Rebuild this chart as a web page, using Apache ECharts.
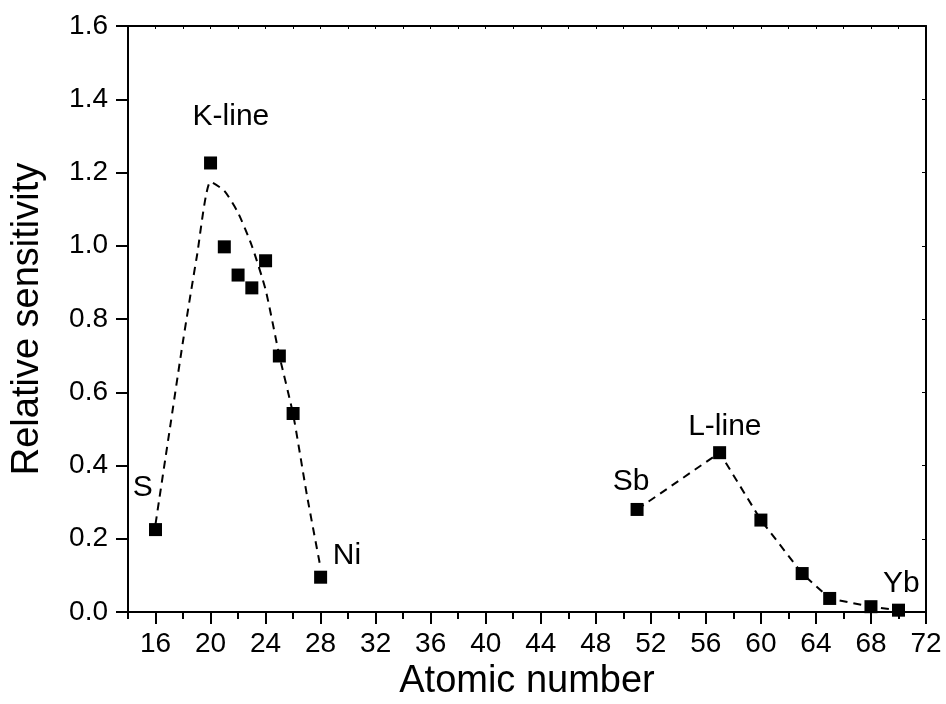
<!DOCTYPE html>
<html>
<head>
<meta charset="utf-8">
<script src="https://cdn.jsdelivr.net/npm/echarts@6/dist/echarts.min.js"></script>
<style>
  html, body { margin: 0; padding: 0; background: #fff; }
  #main { width: 946px; height: 704px; }
</style>
</head>
<body>
<div id="main"></div>
<script>
// measured K-line points (atomic number, relative sensitivity)
const kZ = [16, 20, 21, 22, 23, 24, 25, 26, 28];
const kVal = [0.225, 1.226, 0.997, 0.92, 0.885, 0.959, 0.699, 0.542, 0.095];

// dashed guide curve through the K-line region
const kFitZ = [16, 17, 18, 19, 20, 21, 22, 23, 24, 25, 26, 27, 28];
const kFitVal = [0.24, 0.49, 0.74, 0.97, 1.175, 1.15, 1.09, 1.0, 0.88, 0.70, 0.54, 0.32, 0.12];

// measured L-line points
const lZ = [51, 57, 60, 63, 65, 68, 70];
const lVal = [0.28, 0.435, 0.251, 0.105, 0.037, 0.0145, 0.005];

// annotations
const noteText = ['K-line', 'S', 'Ni', 'Sb', 'L-line', 'Yb'];
const noteZ = [21.48, 15.08, 29.91, 50.57, 57.38, 70.2];
const noteVal = [1.352, 0.339, 0.153, 0.355, 0.505, 0.076];

// tick labels
const xMajor = [16, 20, 24, 28, 32, 36, 40, 44, 48, 52, 56, 60, 64, 68, 72];
const xMinor = [14, 18, 22, 26, 30, 34, 38, 42, 46, 50, 54, 58, 62, 66, 70];

const font = 'Liberation Sans, Arial, sans-serif';
const black = '#000';

let chart = echarts.init(document.getElementById('main'));

let option = {
  animation: false,
  backgroundColor: '#fff',
  textStyle: { fontFamily: font },
  grid: { left: 128, right: 20, top: 26, bottom: 92, outerBoundsMode: 'none', containLabel: false },
  xAxis: [
    {
      type: 'value', min: 14, max: 72, position: 'bottom',
      name: 'Atomic number', nameLocation: 'middle', nameGap: 51,
      nameTextStyle: { fontSize: 38, color: black, fontFamily: font },
      axisLine: { show: true, lineStyle: { color: black, width: 2 } },
      axisTick: { show: true, customValues: xMajor, length: 12, lineStyle: { color: black, width: 2 } },
      axisLabel: { customValues: xMajor, fontSize: 28, color: black, margin: 18, fontFamily: font },
      splitLine: { show: false }
    },
    {
      type: 'value', min: 14, max: 72, position: 'bottom',
      axisLine: { show: false },
      axisTick: { show: true, customValues: xMinor, length: 7, lineStyle: { color: black, width: 2 } },
      axisLabel: { show: false },
      splitLine: { show: false }
    },
    {
      type: 'value', min: 14, max: 72, interval: 2, position: 'top',
      axisLine: { show: true, lineStyle: { color: black, width: 2 } },
      axisTick: { show: true, inside: true, length: 3, lineStyle: { color: black, width: 1 } },
      axisLabel: { show: false },
      splitLine: { show: false }
    }
  ],
  yAxis: [
    {
      type: 'value', min: 0, max: 1.6, interval: 0.2, position: 'left',
      name: 'Relative sensitivity', nameLocation: 'middle', nameGap: 81,
      nameTextStyle: { fontSize: 38, color: black, fontFamily: font },
      axisLine: { show: true, lineStyle: { color: black, width: 2 } },
      axisTick: { show: true, length: 12, lineStyle: { color: black, width: 2 } },
      axisLabel: { fontSize: 28, color: black, margin: 20, fontFamily: font,
        formatter: v => v.toFixed(1) },
      splitLine: { show: false }
    },
    {
      type: 'value', min: 0, max: 1.6, interval: 0.2, position: 'right',
      axisLine: { show: true, lineStyle: { color: black, width: 2 } },
      axisTick: { show: true, inside: true, length: 4, lineStyle: { color: black, width: 1 } },
      axisLabel: { show: false },
      splitLine: { show: false }
    }
  ],
  series: [
    {
      type: 'line',
      data: kFitZ.map((z, i) => [z, kFitVal[i]]),
      showSymbol: false, symbol: 'none', smooth: 0.2,
      lineStyle: { color: black, width: 2, type: [8, 6] },
      z: 2
    },
    {
      type: 'scatter',
      data: kZ.map((z, i) => [z, kVal[i]]),
      symbol: 'rect', symbolSize: 13,
      itemStyle: { color: black, opacity: 1 },
      z: 3
    },
    {
      type: 'line',
      data: lZ.map((z, i) => [z, lVal[i]]),
      symbol: 'rect', symbolSize: 13, showSymbol: true,
      lineStyle: { color: black, width: 2, type: [8, 6] },
      itemStyle: { color: black, opacity: 1 },
      z: 3
    },
    {
      type: 'scatter',
      data: noteZ.map((z, i) => ({ value: [z, noteVal[i]], name: noteText[i] })),
      symbolSize: 0,
      itemStyle: { opacity: 1 },
      label: {
        show: true, position: 'inside', formatter: p => p.name,
        fontSize: 30, color: black, fontFamily: font
      },
      silent: true,
      z: 4
    }
  ]
};

chart.setOption(option);
</script>
</body>
</html>
